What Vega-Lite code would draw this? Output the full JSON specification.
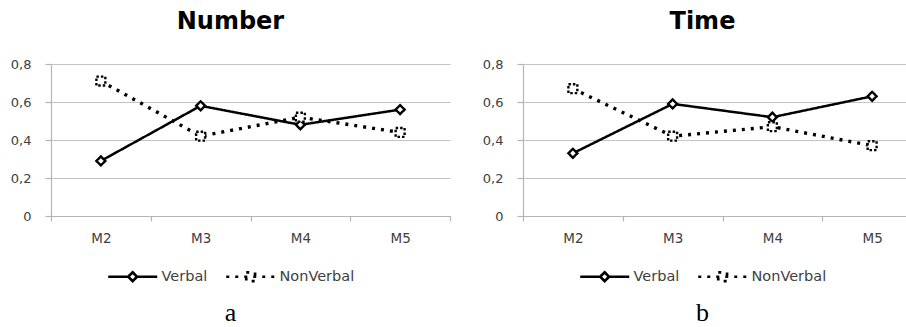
{
  "$schema": "https://vega.github.io/schema/vega-lite/v6.json",
  "background": "white",
  "padding": {"left": 10, "top": 10, "right": 0, "bottom": 0},
  "config": {
    "view": {"stroke": null},
    "font": "DejaVu Sans",
    "axis": {"labelFont": "DejaVu Sans", "labelColor": "#404040", "labelFontSize": 13, "domainColor": "#b5b5b5", "tickColor": "#b5b5b5", "gridColor": "#c4c4c4", "domainWidth": 1.2, "tickWidth": 1.2, "gridWidth": 1.2, "title": null},
    "legend": {"layout": {"bottom": {"anchor": "middle"}}},
    "concat": {"spacing": 31}
  },
  "datasets": {
    "number": [
      {"month": "M2", "series": "Verbal", "value": 0.29},
      {"month": "M3", "series": "Verbal", "value": 0.58},
      {"month": "M4", "series": "Verbal", "value": 0.48},
      {"month": "M5", "series": "Verbal", "value": 0.56},
      {"month": "M2", "series": "NonVerbal", "value": 0.71},
      {"month": "M3", "series": "NonVerbal", "value": 0.42},
      {"month": "M4", "series": "NonVerbal", "value": 0.52},
      {"month": "M5", "series": "NonVerbal", "value": 0.44}
    ],
    "time": [
      {"month": "M2", "series": "Verbal", "value": 0.33},
      {"month": "M3", "series": "Verbal", "value": 0.59},
      {"month": "M4", "series": "Verbal", "value": 0.52},
      {"month": "M5", "series": "Verbal", "value": 0.63},
      {"month": "M2", "series": "NonVerbal", "value": 0.67},
      {"month": "M3", "series": "NonVerbal", "value": 0.42},
      {"month": "M4", "series": "NonVerbal", "value": 0.47},
      {"month": "M5", "series": "NonVerbal", "value": 0.37}
    ]
  },
  "resolve": {"scale": {"x": "independent", "y": "independent", "strokeDash": "independent"}},
  "hconcat": [
    {
      "title": {"text": "a", "orient": "bottom", "anchor": "middle", "font": "Liberation Serif", "fontSize": 26, "fontWeight": "normal", "color": "black", "offset": 13},
      "vconcat": [
        {
          "title": {"text": "Number", "anchor": "middle", "frame": "bounds", "font": "DejaVu Sans", "fontSize": 24, "fontWeight": "bold", "color": "black", "offset": 24},
          "width": 399,
          "height": 152,
          "data": {"name": "number"},
          "encoding": {
            "x": {"field": "month", "type": "nominal", "sort": ["M2", "M3", "M4", "M5"], "scale": {"type": "band", "paddingInner": 0, "paddingOuter": 0}, "axis": {"labelAngle": 0, "grid": false, "tickBand": "extent", "tickSize": 5, "labelPadding": 10, "labelFontSize": 13.5}},
            "y": {"field": "value", "type": "quantitative", "scale": {"domain": [0, 0.8], "nice": false}, "axis": {"values": [0, 0.2, 0.4, 0.6, 0.8], "format": ".1~f", "labelExpr": "replace(datum.label, '.', ',')", "tickSize": 6, "labelPadding": 14, "grid": true}}
          },
          "layer": [
            {
              "mark": {"type": "line", "color": "black"},
              "encoding": {
                "strokeWidth": {"condition": {"test": "datum.series === 'NonVerbal'", "value": 3.4}, "value": 2.5},
                "strokeDash": {"field": "series", "type": "nominal", "sort": ["Verbal", "NonVerbal"], "scale": {"domain": ["Verbal", "NonVerbal"], "range": [[1, 0], [3, 6]]},
                  "legend": {"orient": "bottom", "direction": "horizontal", "title": null, "symbolSize": 64, "symbolStrokeWidth": 2.7, "symbolStrokeColor": "black", "symbolFillColor": "white", "labelOffset": 42, "labelFont": "DejaVu Sans", "labelFontSize": 14.5, "labelColor": "#404040", "columnPadding": 12, "offset": 23.5,
                    "encode": {"symbols": {"update": {"shape": {"signal": "datum.value === 'Verbal' ? 'M-1,0H4M6.2,0H11.25M5.1,-1.1L6.2,0L5.1,1.1L4,0Z' : 'M-1,0H11.25M4,-1.1H6.2V1.1H4Z'"}}}}}}
              }
            },
            {
              "mark": {"type": "point", "filled": false, "fill": "white", "stroke": "black", "strokeWidth": 2.4, "size": 80, "opacity": 1},
              "encoding": {
                "shape": {"condition": {"test": "datum.series === 'NonVerbal'", "value": "square"}, "value": "diamond"},
                "strokeDash": {"condition": {"test": "datum.series === 'NonVerbal'", "value": [2.5, 2]}, "value": [1, 0]}
              }
            }
          ]
        }
      ]
    },
    {
      "title": {"text": "b", "orient": "bottom", "anchor": "middle", "font": "Liberation Serif", "fontSize": 26, "fontWeight": "normal", "color": "black", "offset": 13},
      "vconcat": [
        {
          "title": {"text": "Time", "anchor": "middle", "frame": "bounds", "font": "DejaVu Sans", "fontSize": 24, "fontWeight": "bold", "color": "black", "offset": 24},
          "width": 399,
          "height": 152,
          "data": {"name": "time"},
          "encoding": {
            "x": {"field": "month", "type": "nominal", "sort": ["M2", "M3", "M4", "M5"], "scale": {"type": "band", "paddingInner": 0, "paddingOuter": 0}, "axis": {"labelAngle": 0, "grid": false, "tickBand": "extent", "tickSize": 5, "labelPadding": 10, "labelFontSize": 13.5}},
            "y": {"field": "value", "type": "quantitative", "scale": {"domain": [0, 0.8], "nice": false}, "axis": {"values": [0, 0.2, 0.4, 0.6, 0.8], "format": ".1~f", "labelExpr": "replace(datum.label, '.', ',')", "tickSize": 6, "labelPadding": 14, "grid": true}}
          },
          "layer": [
            {
              "mark": {"type": "line", "color": "black"},
              "encoding": {
                "strokeWidth": {"condition": {"test": "datum.series === 'NonVerbal'", "value": 3.4}, "value": 2.5},
                "strokeDash": {"field": "series", "type": "nominal", "sort": ["Verbal", "NonVerbal"], "scale": {"domain": ["Verbal", "NonVerbal"], "range": [[1, 0], [3, 6]]},
                  "legend": {"orient": "bottom", "direction": "horizontal", "title": null, "symbolSize": 64, "symbolStrokeWidth": 2.7, "symbolStrokeColor": "black", "symbolFillColor": "white", "labelOffset": 42, "labelFont": "DejaVu Sans", "labelFontSize": 14.5, "labelColor": "#404040", "columnPadding": 12, "offset": 23.5,
                    "encode": {"symbols": {"update": {"shape": {"signal": "datum.value === 'Verbal' ? 'M-1,0H4M6.2,0H11.25M5.1,-1.1L6.2,0L5.1,1.1L4,0Z' : 'M-1,0H11.25M4,-1.1H6.2V1.1H4Z'"}}}}}}
              }
            },
            {
              "mark": {"type": "point", "filled": false, "fill": "white", "stroke": "black", "strokeWidth": 2.4, "size": 80, "opacity": 1},
              "encoding": {
                "shape": {"condition": {"test": "datum.series === 'NonVerbal'", "value": "square"}, "value": "diamond"},
                "strokeDash": {"condition": {"test": "datum.series === 'NonVerbal'", "value": [2.5, 2]}, "value": [1, 0]}
              }
            }
          ]
        }
      ]
    }
  ]
}
